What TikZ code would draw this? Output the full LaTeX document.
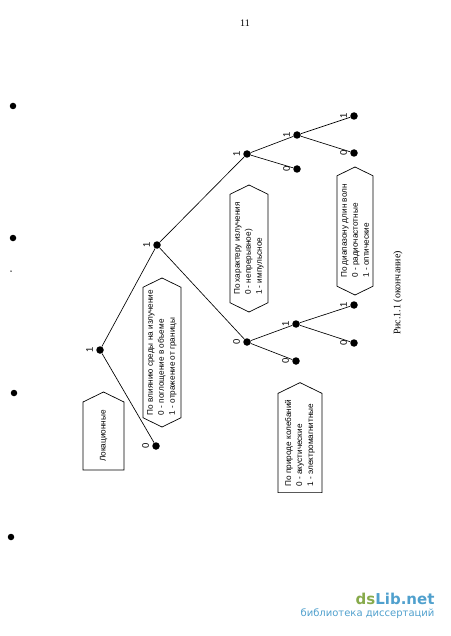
\documentclass[tikz,border=0pt]{standalone}
\usepackage{fontspec}
\setmainfont{Liberation Serif}
\setsansfont{Liberation Sans}
\newfontfamily\wmfont{DejaVu Sans}
\usetikzlibrary{shapes.symbols,positioning,calc}
\definecolor{wmgreen}{RGB}{135,170,75}
\definecolor{wmblue}{RGB}{80,160,205}

\begin{document}
\begin{tikzpicture}[
  x=1pt, y=-1pt,
  box/.style={signal, draw, line width=0.7pt, rotate=90, signal pointer angle=128, inner sep=2pt, font=\sffamily\fontsize{8.2}{11}\selectfont, align=left},
  dot/.style={circle, fill=black, inner sep=0pt, minimum size=7.5pt},
  lbl/.style={rotate=90, anchor=south, inner sep=3pt, font=\sffamily\fontsize{9.5}{10}\selectfont},
  edge/.style={line width=0.65pt},
  spot/.style={circle, fill=black, inner sep=0pt, minimum size=6.5pt}
]
\useasboundingbox (0,0) rectangle (450,636);

% номер страницы и подпись
\node (pagenum) at (245,23) {\fontsize{10}{12}\selectfont 11};
\node[rotate=90] (caption) at (398,293) {\fontsize{10}{12}\selectfont Рис.1.1 (окончание)};

% вершины дерева
\node[dot, label={[lbl]left:1}] (a) at (100,350) {};
\node[dot, label={[lbl]left:0}] (a0) at (156,446) {};
\node[dot, label={[lbl]left:1}] (b) at (157,245) {};
\node[dot, label={[lbl]left:1}] (c) at (247,154) {};
\node[dot, label={[lbl]left:0}] (c0) at (297,169) {};
\node[dot, label={[lbl]left:1}] (c1) at (297,135) {};
\node[dot, label={[lbl]left:1}] (c11) at (354,116) {};
\node[dot, label={[lbl]left:0}] (c10) at (354,153) {};
\node[dot, label={[lbl]left:0}] (d) at (247,342) {};
\node[dot, label={[lbl]left:0}] (d0) at (296,361) {};
\node[dot, label={[lbl]left:1}] (d1) at (296,324) {};
\node[dot, label={[lbl]left:1}] (d11) at (354,305) {};
\node[dot, label={[lbl]left:0}] (d10) at (354,343) {};

% признаки классификации
\node[box, signal to=east, minimum width=78pt, minimum height=41pt] (loc) at (103.5,436) {Локационные};
\node[box, signal to=east and west, minimum width=149pt, minimum height=38pt] (medium) at (162,352.5) {По влиянию среды на излучение\\0 - поглощение в объеме\\1 - отражение от границы};
\node[box, signal to=east and west, minimum width=127pt, minimum height=38pt] (pulse) at (249,248.5) {По характеру излучения\\0 - непрерывное)\\1 - импульсное};
\node[box, signal to=east and west, minimum width=128pt, minimum height=36pt] (band) at (355,231) {По диапазону длин волн\\0 - радиочастотные\\1 - оптические};
\node[box, signal to=east, minimum width=110pt, minimum height=44pt] (nature) at (300,443) {По природе колебаний\\0 - акустические\\1 - электромагнитные};

% ветви
\draw[edge] (a) -- (a0);
\draw[edge] (a) -- (b);
\draw[edge] (b) -- (c);
\draw[edge] (b) -- (d);
\draw[edge] (c) -- (c0);
\draw[edge] (c) -- (c1);
\draw[edge] (c1) -- (c11);
\draw[edge] (c1) -- (c10);
\draw[edge] (d) -- (d0);
\draw[edge] (d) -- (d1);
\draw[edge] (d1) -- (d11);
\draw[edge] (d1) -- (d10);

% следы сканирования
\node[spot] (s1) at (13,106) {};
\node[spot] (s2) at (13,238) {};
\node[spot, minimum size=1.5pt] (s3) at (11,271) {};
\node[spot] (s4) at (14,393) {};
\node[spot] (s5) at (11,537) {};

% водяной знак
\node[anchor=east, font=\wmfont\bfseries\fontsize{15}{16}\selectfont] (wm) at (438,599) {\textcolor{wmgreen}{ds}\textcolor{wmblue}{Lib.net}};
\node[anchor=east, text=wmblue, font=\wmfont\fontsize{10}{12}\selectfont] (wmsub) at (438,614) {библиотека диссертаций};

\end{tikzpicture}
\end{document}
